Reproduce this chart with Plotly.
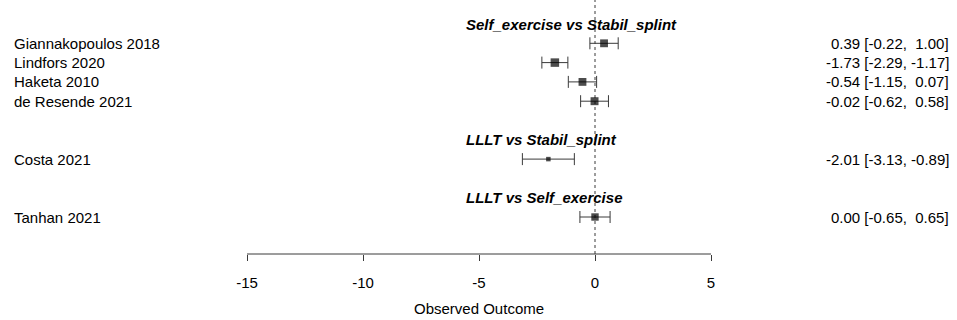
import plotly.graph_objects as go

# ---- data ----
studies = ["Giannakopoulos 2018", "Lindfors 2020", "Haketa 2010", "de Resende 2021",
           "Costa 2021", "Tanhan 2021"]
estimate = [0.39, -1.73, -0.54, -0.02, -2.01, 0.00]
ci_lower = [-0.22, -2.29, -1.15, -0.62, -3.13, -0.65]
ci_upper = [1.00, -1.17, 0.07, 0.58, -0.89, 0.65]
comparisons = ["Self_exercise vs Stabil_splint", "LLLT vs Stabil_splint", "LLLT vs Self_exercise"]
tick_values = [-15, -10, -5, 0, 5]
axis_title = "Observed Outcome"

# ---- layout helpers ----
study_rows = [10, 9, 8, 7, 4, 1]
comparison_rows = [11, 5, 2]

FONT = "Liberation Sans, Arial, sans-serif"
TXT = "#000000"
LINE = "#3a3a3a"

# marker sizes from precision (metafor-style scaling 0.5..1.5)
prec = [1 / ((u - l) / (2 * 1.96)) for l, u in zip(ci_lower, ci_upper)]
pmin, pmax = min(prec), max(prec)
psize = [0.5 + (p - pmin) / (pmax - pmin) for p in prec]
sizes = [4 * p + 2.5 for p in psize]

px_per_unit = 23.2
x_left = tick_values[0] - 247 / px_per_unit
x_right = x_left + 957 / px_per_unit

pitch = 19.3
y_top = 1 + 217 / pitch
y_bot = y_top - 254 / pitch

fig = go.Figure()
# confidence intervals
fig.add_trace(go.Scatter(
    x=estimate, y=study_rows, mode="markers",
    marker=dict(size=1, color="rgba(0,0,0,0)"),
    error_x=dict(type="data", symmetric=False,
                 array=[u - e for u, e in zip(ci_upper, estimate)],
                 arrayminus=[e - l for e, l in zip(estimate, ci_lower)],
                 thickness=1, width=6, color=LINE),
    hoverinfo="skip", showlegend=False,
))
# point estimates on top
fig.add_trace(go.Scatter(
    x=estimate, y=study_rows, mode="markers",
    marker=dict(symbol="square", size=sizes, color="black", line=dict(width=0)),
    hoverinfo="skip", showlegend=False,
))

# dotted reference line at 0
fig.add_shape(type="line", x0=0, x1=0, y0=0, y1=1, xref="x", yref="paper",
              line=dict(color=LINE, width=1, dash="dot"), layer="below")
# axis line spanning the tick range
fig.add_shape(type="line", x0=tick_values[0], x1=tick_values[-1], y0=0, y1=0,
              xref="x", yref="paper", line=dict(color=LINE, width=1))

annotations = []
for name, r in zip(studies, study_rows):
    annotations.append(dict(x=12 / 957, y=r, xref="paper", yref="y", text=name,
                            xanchor="left", yanchor="middle", showarrow=False,
                            font=dict(family=FONT, size=15, color=TXT)))
for e, l, u, r in zip(estimate, ci_lower, ci_upper, study_rows):
    txt = f"{e:.2f} [{l:5.2f}, {u:5.2f}]".replace(" ", "\u00a0")
    annotations.append(dict(x=951 / 957, y=r, xref="paper", yref="y", text=txt,
                            xanchor="right", yanchor="middle", showarrow=False,
                            font=dict(family=FONT, size=15, color=TXT)))
for c, r in zip(comparisons, comparison_rows):
    annotations.append(dict(x=464 / 957, y=r, xref="paper", yref="y",
                            text=f"<b><i>{c}</i></b>",
                            xanchor="left", yanchor="middle", showarrow=False,
                            font=dict(family=FONT, size=15, color=TXT)))
annotations.append(dict(x=(tick_values[0] + tick_values[-1]) / 2, y=-54 / 254,
                        xref="x", yref="paper", text=axis_title,
                        xanchor="center", yanchor="middle", showarrow=False,
                        font=dict(family=FONT, size=15, color=TXT)))

fig.update_layout(
    width=957, height=320,
    margin=dict(l=0, r=0, t=0, b=66, pad=0),
    paper_bgcolor="white", plot_bgcolor="white",
    xaxis=dict(range=[x_left, x_right], tickvals=tick_values,
               ticktext=[str(v) for v in tick_values],
               ticks="outside", ticklen=6, tickwidth=1, tickcolor=LINE,
               ticklabelstandoff=9,
               showline=False, showgrid=False, zeroline=False,
               tickfont=dict(family=FONT, size=15, color=TXT)),
    yaxis=dict(range=[y_bot, y_top], visible=False, showgrid=False, zeroline=False),
    annotations=annotations,
)

fig.write_html("out.html")
